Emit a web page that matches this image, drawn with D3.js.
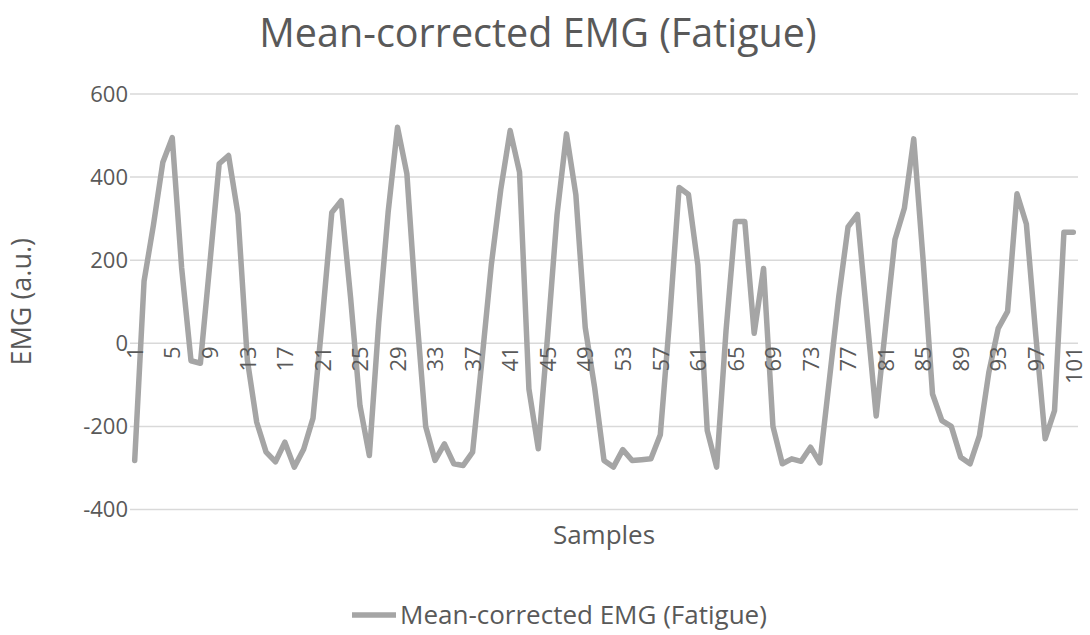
<!DOCTYPE html>
<html>
<head>
<meta charset="utf-8">
<script src="https://cdn.jsdelivr.net/npm/d3@7"></script>
<style>
  html, body { margin: 0; padding: 0; background: #fff; }
  svg { display: block; }
</style>
</head>
<body>
<svg id="chart" width="1090" height="635"></svg>
<script>
// Sample numbers 1..101
const samples = d3.range(1, 102);

// Mean-corrected EMG amplitude per sample (a.u.)
const emgFatigue = [
  -282, 150, 285, 436, 495, 182, -42, -48, 190, 432,
  452, 311, -40, -190, -262, -285, -238, -298, -255, -180,
  60, 315, 343, 110, -150, -270, 50, 315, 520, 408,
  80, -200, -282, -242, -290, -294, -262, -40, 190, 370,
  512, 412, -110, -254, 20, 310, 504, 358, 38, -106,
  -282, -298, -256, -282, -280, -278, -220, 60, 375, 358,
  188, -210, -298, 30, 293, 293, 24, 180, -200, -290,
  -278, -284, -250, -288, -90, 110, 280, 310, 65, -175,
  40, 250, 325, 492, 200, -122, -186, -200, -274, -290,
  -222, -70, 36, 77, 360, 287, 20, -230, -162, 267,
  267
];

// Axis ticks
const yTicks = [-400, -200, 0, 200, 400, 600];
const xTickLabels = samples.filter(d => (d - 1) % 4 === 0);

const titleText = "Mean-corrected EMG (Fatigue)";
const seriesName = "Mean-corrected EMG (Fatigue)";
const xTitle = "Samples";
const yTitle = "EMG (a.u.)";

const svg = d3.select("#chart");
const font = "'Open Sans', 'Liberation Sans', sans-serif";
const textColor = "#595959";
const lineColor = "#a5a5a5";
const gridColor = "#d9d9d9";

const plot = { left: 130, right: 1078, top: 94, bottom: 509.5 };

const x = d3.scalePoint()
  .domain(samples)
  .range([plot.left, plot.right])
  .padding(0.5);

const y = d3.scaleLinear()
  .domain([-400, 600])
  .range([plot.bottom, plot.top]);

// Horizontal gridlines
svg.append("g")
  .selectAll("line")
  .data(yTicks)
  .join("line")
  .attr("x1", plot.left)
  .attr("x2", plot.right)
  .attr("y1", d => y(d))
  .attr("y2", d => y(d))
  .attr("stroke", gridColor)
  .attr("stroke-width", 1.5);

// Y axis labels (plain hyphen for negatives)
const yAxis = d3.axisLeft(y)
  .tickValues(yTicks)
  .tickFormat(d => String(d))
  .tickSize(0)
  .tickPadding(0);
svg.append("g")
  .attr("transform", `translate(${plot.left - 2},0)`)
  .call(yAxis)
  .call(g => g.select(".domain").remove())
  .selectAll("text")
  .attr("fill", textColor)
  .style("font-family", font)
  .style("font-size", "22px");

// Data line
const line = d3.line()
  .x((d, i) => x(samples[i]))
  .y(d => y(d));

svg.append("path")
  .datum(emgFatigue)
  .attr("d", line)
  .attr("fill", "none")
  .attr("stroke", lineColor)
  .attr("stroke-width", 5.5)
  .attr("stroke-linejoin", "round")
  .attr("stroke-linecap", "round");

// X axis labels, crossing at zero and rotated
const xAxis = d3.axisBottom(x).tickValues(xTickLabels).tickSize(0).tickPadding(0);
const xg = svg.append("g")
  .attr("transform", `translate(0,${y(0)})`)
  .call(xAxis)
  .call(g => g.select(".domain").remove());
xg.selectAll("text")
  .attr("fill", textColor)
  .style("font-family", font)
  .style("font-size", "22px")
  .attr("text-anchor", "end")
  .attr("dy", "0.35em")
  .attr("transform", "translate(0,3) rotate(-90)")
  .attr("y", 0)
  .attr("x", 0);

// Title
svg.append("text")
  .attr("x", 538)
  .attr("y", 47)
  .attr("text-anchor", "middle")
  .attr("fill", textColor)
  .style("font-family", font)
  .style("font-size", "39.5px")
  .text(titleText);

// Axis titles
svg.append("text")
  .attr("x", 604)
  .attr("y", 544)
  .attr("text-anchor", "middle")
  .attr("fill", textColor)
  .style("font-family", font)
  .style("font-size", "26px")
  .text(xTitle);

svg.append("text")
  .attr("transform", `translate(31,${(plot.top + plot.bottom) / 2}) rotate(-90)`)
  .attr("text-anchor", "middle")
  .attr("fill", textColor)
  .style("font-family", font)
  .style("font-size", "27px")
  .text(yTitle);

// Legend
const legend = svg.append("g").attr("transform", "translate(352,615)");
legend.append("line")
  .attr("x1", 0).attr("x2", 44)
  .attr("y1", 0).attr("y2", 0)
  .attr("stroke", lineColor)
  .attr("stroke-width", 5.5);
legend.append("text")
  .attr("x", 48)
  .attr("y", 0)
  .attr("dy", "0.35em")
  .attr("fill", textColor)
  .style("font-family", font)
  .style("font-size", "26px")
  .text(seriesName);
</script>
</body>
</html>
